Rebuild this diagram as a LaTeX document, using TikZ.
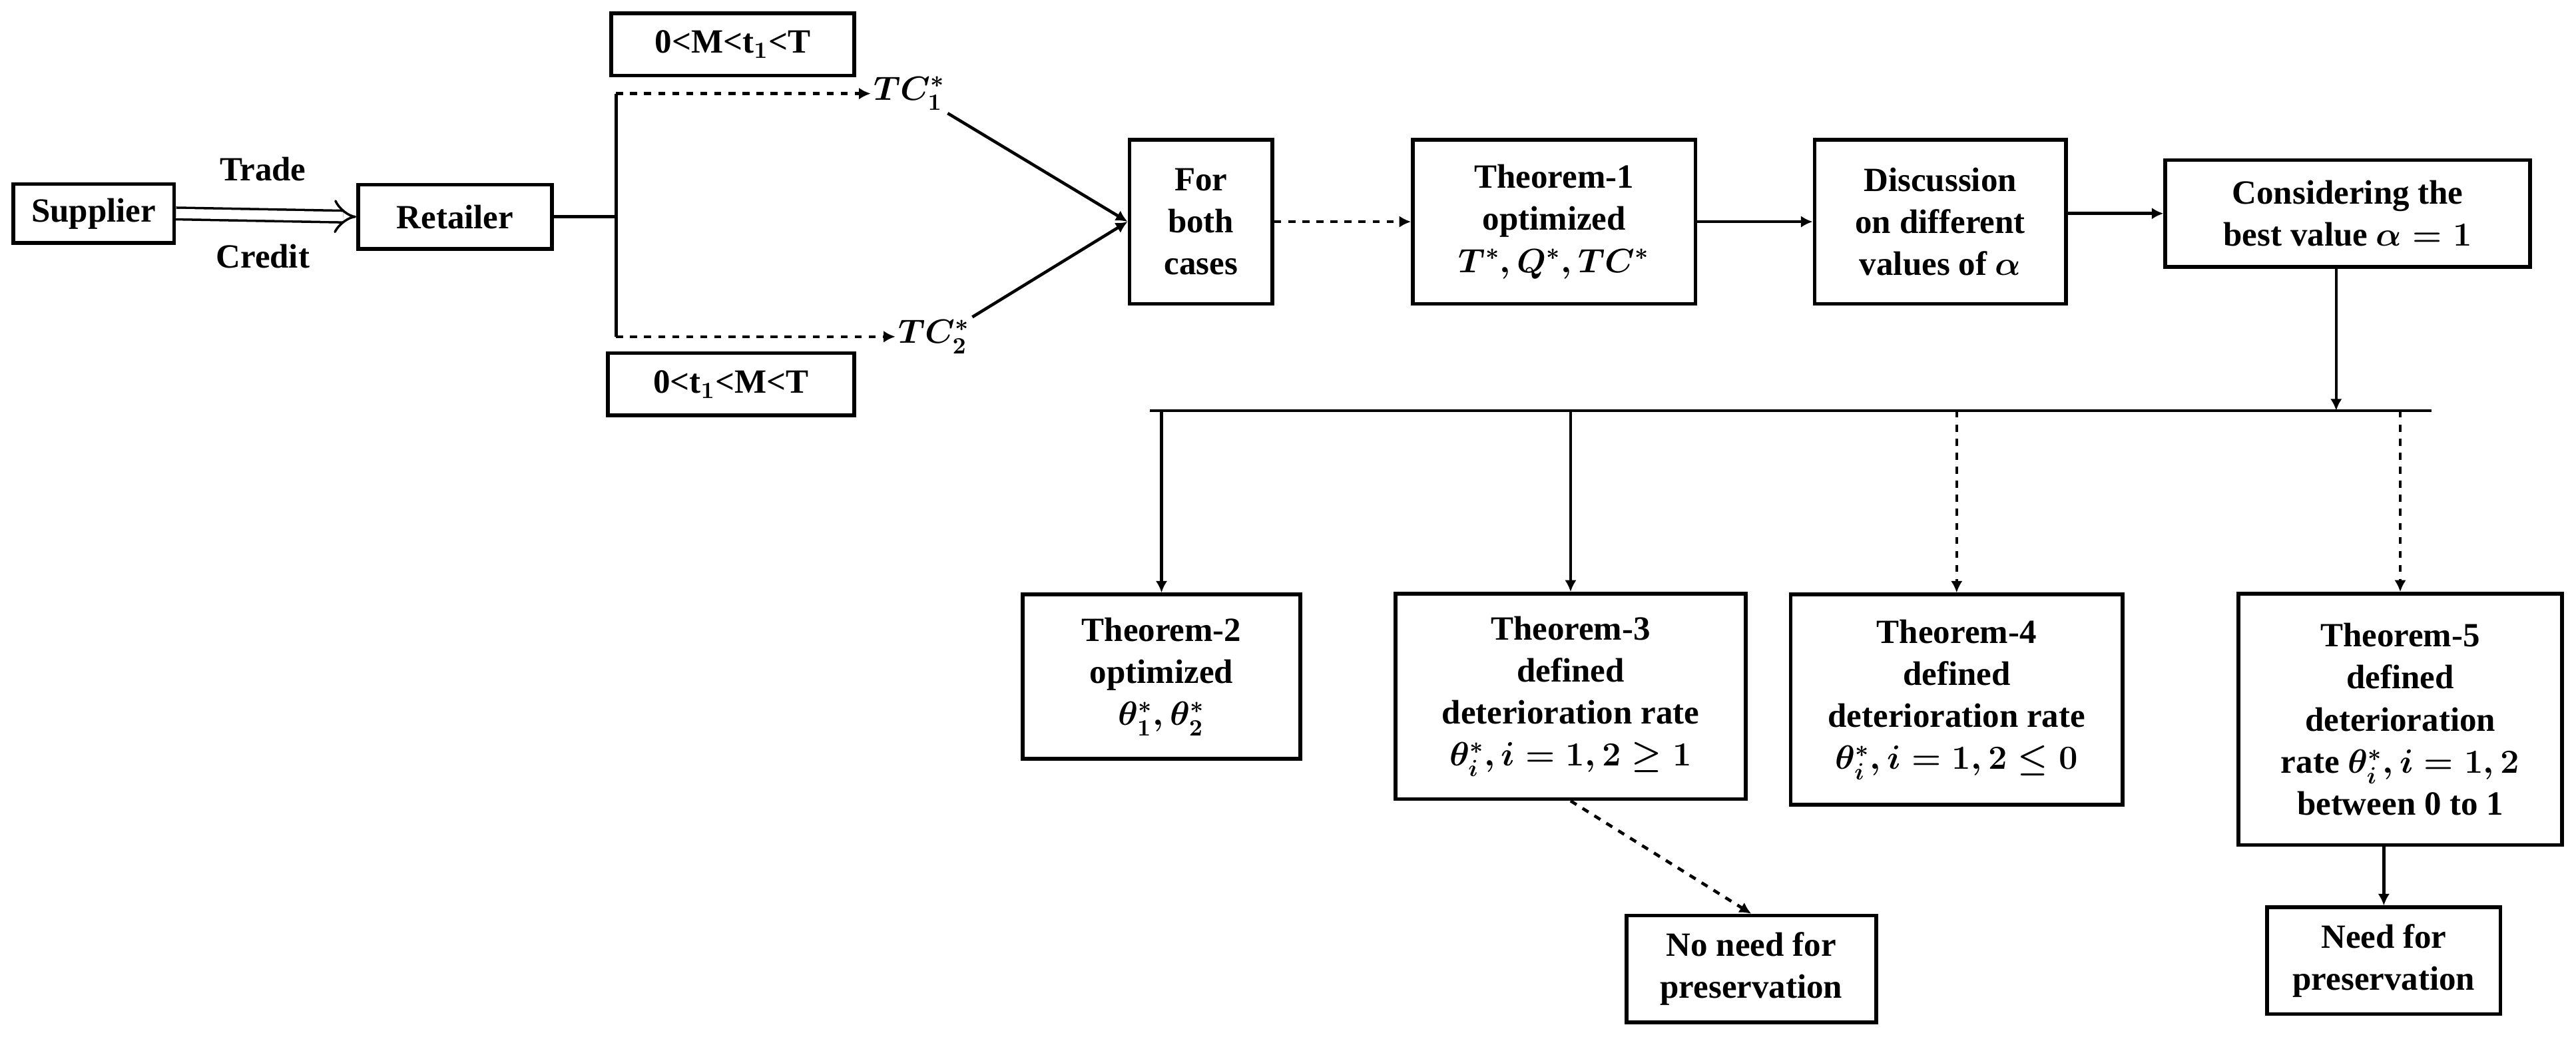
\documentclass[tikz,border=0pt]{standalone}
\usepackage{fontspec}
\setmainfont{Liberation Serif}
\usetikzlibrary{arrows.meta}
\begin{document}
\begin{tikzpicture}[x=0.02467cm,y=-0.02467cm,
    box/.style={draw,line width=1.6pt,align=center,font=\fontsize{14.5}{18}\selectfont\bfseries\boldmath,inner sep=2pt},
    sz/.style 2 args={minimum width=#1*0.702pt,minimum height=#2*0.702pt},
    lab/.style={font=\fontsize{14.5}{18}\selectfont\bfseries\boldmath,inner sep=1pt},
    ar/.style={line width=1.3pt,-{Latex[length=5pt,width=5pt]}},
    ln/.style={line width=1.3pt}]
\useasboundingbox (0,0) rectangle (1568,633.5);
% top row
\node[box,sz={98}{36}] (sup) at (57,130) {Supplier};
\node[box,sz={118}{39}] (ret) at (277,132) {Retailer};
\draw[double=white,double distance=4pt,line width=1pt,-{Implies}] (sup.east) -- (ret.west);
\node[lab] (trade) at (160,103) {Trade};
\node[lab] (credit) at (160,156) {Credit};
\node[box,sz={148}{38}] (c1) at (446,27) {0<M<t$_1$<T};
\node[box,sz={150}{38}] (c2) at (445,234) {0<t$_1$<M<T};
\coordinate (j) at (375,132);
\coordinate (jt) at (375,57);
\coordinate (jb) at (375,205);
\draw[ln] (ret.east) -- (j);
\draw[ln] (jt) -- (jb);
\node[lab,anchor=west] (tc1) at (530,57) {$TC_1^*$};
\node[lab,anchor=west] (tc2) at (545,205) {$TC_2^*$};
\draw[ar,dashed] (jt) -- (tc1.west);
\draw[ar,dashed] (jb) -- (tc2.west);
\node[box,sz={87}{100}] (both) at (731,135) {For\\both\\cases};
\draw[ar] (tc1.south east) -- (both.west);
\draw[ar] (tc2.north east) -- (both.west);
\node[box,sz={172}{100}] (t1) at (946,135) {Theorem-1\\optimized\\$T^*, Q^*, TC^*$};
\node[box,sz={153}{100}] (disc) at (1181,135) {Discussion\\on different\\values of $\alpha$};
\node[box,sz={222}{65}] (cons) at (1429,130) {Considering the\\best value $\alpha=1$};
\draw[ar,dashed] (both) -- (t1);
\draw[ar] (t1) -- (disc);
\draw[ar] (disc.east |- cons) -- (cons.west);
% distribution line
\coordinate (hl) at (700,250);
\coordinate (hr) at (1480,250);
\coordinate (hc) at (1422,250);
\draw[ln] (hl) -- (hr);
\draw[ar] (cons.south -| hc) -- (hc);
% theorems
\node[box,sz={169}{100}] (t2) at (707,412) {Theorem-2\\optimized\\$\theta_1^*, \theta_2^*$};
\node[box,sz={213}{125}] (t3) at (956,424) {Theorem-3\\defined\\deterioration rate\\$\theta_i^*, i=1,2\geq 1$};
\node[box,sz={202}{128}] (t4) at (1191,426) {Theorem-4\\defined\\deterioration rate\\$\theta_i^*, i=1,2\leq 0$};
\node[box,sz={197}{153}] (t5) at (1461,438) {Theorem-5\\defined\\deterioration\\rate $\theta_i^*, i=1,2$\\between 0 to 1};
\draw[ar] (t2.north |- hl) -- (t2.north);
\draw[ar] (t3.north |- hl) -- (t3.north);
\draw[ar,dashed] (t4.north |- hl) -- (t4.north);
\draw[ar,dashed] (t5.north |- hl) -- (t5.north);
\node[box,sz={152}{65}] (nn) at (1066,590) {No need for\\preservation};
\node[box,sz={142}{65}] (np) at (1451,585) {Need for\\preservation};
\draw[ar,dashed] (t3.south) -- (nn.north);
\draw[ar] (t5.south -| np.north) -- (np.north);
\end{tikzpicture}
\end{document}
